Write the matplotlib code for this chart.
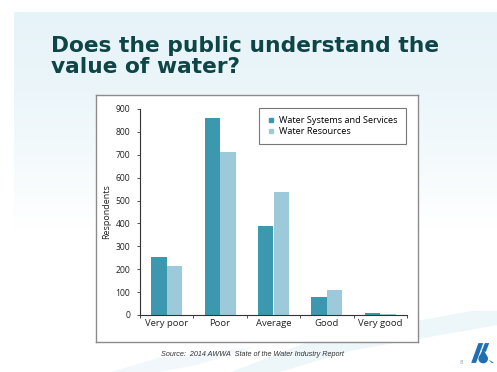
import numpy as np
import matplotlib
matplotlib.use('Agg')
import matplotlib.pyplot as plt
from matplotlib.patches import Polygon, Ellipse
from matplotlib.lines import Line2D

categories = ['Very poor', 'Poor', 'Average', 'Good', 'Very good']
systems = [255, 860, 388, 80, 8]
resources = [215, 712, 538, 110, 3]
series_names = ['Water Systems and Services', 'Water Resources']
yticks = [0, 100, 200, 300, 400, 500, 600, 700, 800, 900]

dark = '#3b98ae'
light = '#9ccadb'

fig = plt.figure(figsize=(4.97, 3.72), dpi=100)
fig.patch.set_facecolor('white')

# slide background: pale blue fading to white
bg = fig.add_axes([14 / 497, 0, 1 - 14 / 497, 1 - 12 / 372], zorder=-5)
grad = np.linspace(0, 1, 200).reshape(-1, 1)
top = np.array([0.905, 0.955, 0.975])
bot = np.array([1.0, 1.0, 1.0])
w = np.clip(grad / 0.6, 0, 1) ** 1.5
img = top * (1 - w)[..., None] + bot * w[..., None]
bg.imshow(img, aspect='auto', extent=[0, 1, 0, 1], origin='upper')
# faint swooshes near the bottom
bg.add_patch(Polygon([[0.45, 0], [0.62, 0.09], [0.95, 0.17], [1, 0.17], [1, 0.13], [0.7, 0.06], [0.55, 0]],
                     closed=True, color='#e2f0f6', alpha=0.6, lw=0))
bg.add_patch(Polygon([[0.2, 0], [0.3, 0.04], [0.5, 0.07], [0.38, 0.02], [0.3, 0]],
                     closed=True, color='#e8f3f8', alpha=0.6, lw=0))
bg.set_xlim(0, 1)
bg.set_ylim(0, 1)
bg.axis('off')

fig.text(51 / 497, 1 - 36 / 372, 'Does the public understand the\nvalue of water?',
         ha='left', va='top', fontsize=15.7, fontweight='bold', color='#0e4547',
         family='DejaVu Sans', linespacing=1.06)

# white chart frame
frame = fig.add_axes([96 / 497, 1 - 342 / 372, 322 / 497, 247 / 372], zorder=0)
frame.set_xticks([])
frame.set_yticks([])
frame.set_facecolor('white')
for s in frame.spines.values():
    s.set_color('#8c8c8c')
    s.set_linewidth(1.0)

ax = fig.add_axes([140 / 497, 1 - 315 / 372, 267 / 497, 206 / 372], zorder=2)
ax.set_facecolor('none')
x = np.arange(len(categories))
bw = 0.29
ax.bar(x - bw / 2, systems, bw, color=dark, label=series_names[0])
ax.bar(x + bw / 2, resources, bw, color=light, label=series_names[1])

ax.set_xlim(-0.5, 4.5)
ax.set_ylim(0, 900)
ax.set_yticks(yticks)
ax.set_xticks(x)
ax.set_xticklabels(categories)
ax.set_xticks(np.arange(-0.5, 5, 1), minor=True)
for s in ['top', 'right']:
    ax.spines[s].set_visible(False)
for s in ['left', 'bottom']:
    ax.spines[s].set_color('#333333')
    ax.spines[s].set_linewidth(0.8)
ax.tick_params(axis='y', length=2, width=0.6, labelsize=6.2, pad=5, colors='#333333', labelcolor='#222222')
ax.tick_params(axis='x', which='major', length=0, labelsize=6.8, pad=3, labelcolor='#222222')
ax.tick_params(axis='x', which='minor', length=2, width=0.6, colors='#333333')
for lbl in ax.get_xticklabels() + ax.get_yticklabels():
    lbl.set_family('Open Sans')
ax.set_ylabel('Respondents', fontsize=6.5, family='Open Sans', color='#222222', labelpad=3)

handles = [Line2D([], [], ls='none', marker='s', ms=3, color=dark),
           Line2D([], [], ls='none', marker='s', ms=3, color=light)]
leg = ax.legend(handles, series_names, loc='upper right', bbox_to_anchor=(0.997, 1.005),
                prop={'family': 'Open Sans', 'size': 6.6}, frameon=True, fancybox=False,
                edgecolor='#555555', handlelength=0.8, handletextpad=0.5,
                borderpad=0.9, labelspacing=0.2, borderaxespad=0)
leg.get_frame().set_linewidth(0.8)

fig.text(252 / 497, 1 - 355 / 372, 'Source:  2014 AWWA  State of the Water Industry Report',
         ha='center', va='center', fontsize=5.2, style='italic', family='Liberation Sans',
         color='#333333')

# page number and logo
fig.text(461 / 497, 1 - 362 / 372, '8', ha='center', va='center', fontsize=4, color='#9aaab0')
lg = fig.add_axes([470 / 497, 1 - 364 / 372, 24 / 497, 22 / 372], zorder=3)
lg.add_patch(Polygon([[0.05, 0.05], [0.35, 0.95], [0.55, 0.95], [0.25, 0.05]], color='#1e6fb3', lw=0))
lg.add_patch(Polygon([[0.5, 0.62], [0.62, 0.95], [0.8, 0.95], [0.66, 0.55]], color='#1e6fb3', lw=0))
lg.add_patch(Ellipse((0.55, 0.24), 0.4, 0.42, color='#1e6fb3', lw=0))
lg.add_patch(Polygon([[0.37, 0.3], [0.55, 0.7], [0.73, 0.3]], color='#1e6fb3', lw=0))
lg.add_patch(Polygon([[0.78, 0.2], [0.9, 0.05], [1.0, 0.05]], color='#1e6fb3', lw=0))
lg.set_xlim(0, 1)
lg.set_ylim(0, 1)
lg.axis('off')

fig.savefig('out.png', dpi=100, facecolor=fig.get_facecolor())
